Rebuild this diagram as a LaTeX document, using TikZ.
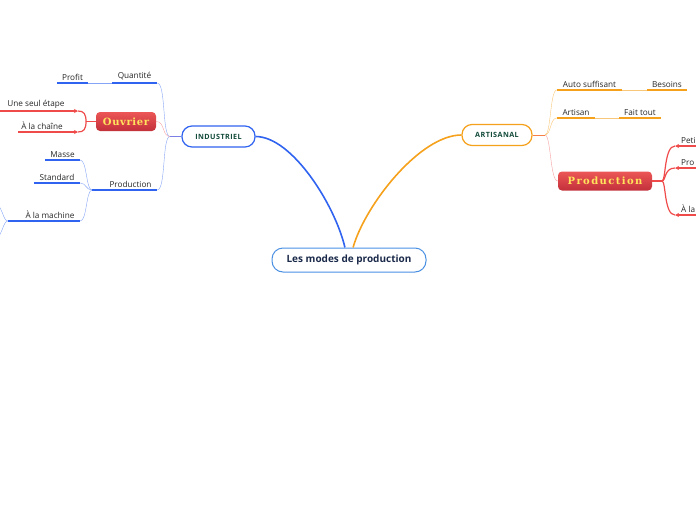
\documentclass[tikz,border=0pt]{standalone}
\usepackage{fontspec}
\setmainfont{Open Sans}
\newfontfamily\slabfont[LetterSpace=6]{DejaVu Serif}
\newfontfamily\slabwide[LetterSpace=14]{DejaVu Serif}
\newfontfamily\capsfont[LetterSpace=6]{Open Sans}
\usetikzlibrary{arrows.meta}
\definecolor{bluebr}{HTML}{2F63F0}
\definecolor{bluelt}{HTML}{86A4F6}
\definecolor{bluestub}{HTML}{7B7FE6}
\definecolor{orbr}{HTML}{F5A11C}
\definecolor{orlt}{HTML}{F9C77A}
\definecolor{orstub}{HTML}{F57F45}
\definecolor{redbr}{HTML}{F04B4B}
\definecolor{redlt}{HTML}{F6A0A0}
\definecolor{redtop}{HTML}{EC5656}
\definecolor{redbot}{HTML}{C2303A}
\definecolor{yellowtxt}{HTML}{FFE45C}
\definecolor{greentxt}{HTML}{124A3A}
\definecolor{navytxt}{HTML}{1B2A4A}
\definecolor{rootline}{HTML}{4A90E2}
\tikzset{
  root/.style={draw=rootline, line width=1pt, rounded corners=11pt, fill=white,
    minimum width=154pt, minimum height=24pt, inner sep=0pt,
    font=\fontsize{10}{12}\selectfont\bfseries, text=navytxt},
  mainbox/.style={rounded corners=10pt, line width=1.2pt, fill=white, inner sep=0pt,
    minimum height=21pt, font=\capsfont\fontsize{7.2}{9}\selectfont\bfseries, text=greentxt},
  redbox/.style={rounded corners=4pt, top color=redtop, bottom color=redbot, inner sep=0pt,
    minimum height=19pt, font=\slabfont\fontsize{10}{11}\selectfont\bfseries, text=yellowtxt},
  leaf/.style={anchor=south, inner xsep=0pt, inner ysep=2.5pt,
    font=\fontsize{8.2}{10}\selectfont, text=black!85},
  thick line/.style={line width=1.6pt},
  tipR/.style={-{Stealth[length=4pt,width=4pt]}},
  tipL/.style={{Stealth[length=4pt,width=4pt]}-}
}
\begin{document}
\begin{tikzpicture}[x=1pt,y=-1pt]
\useasboundingbox (0,0) rectangle (696,520);

\node[root] (root) at (349,260) {Les modes de production};
\node[mainbox, draw=bluebr, minimum width=73pt] (indus) at (218.5,136.5) {INDUSTRIEL};
\node[mainbox, draw=orbr, minimum width=70pt] (artis) at (497,135) {ARTISANAL};

\draw[bluebr, thick line] (root.108) .. controls (335,205) and (292,136.5) .. (indus.east);
\draw[orbr, thick line] (root.72) .. controls (365,205) and (420,135) .. (artis.west);

% industriel
\node[leaf, minimum width=45pt] (quant) at (134.5,83) {Quantité};
\node[leaf, minimum width=31pt] (profit) at (72.5,83) {Profit};
\node[redbox, minimum width=60pt] (ouvrier) at (126,121.5) {Ouvrier};
\node[leaf, minimum width=72pt] (etape) at (36,111) {Une seul étape};
\node[leaf, minimum width=48pt] (chaine) at (42,132) {À la chaîne};
\node[leaf, minimum width=53pt] (prodL) at (130.5,190) {Production};
\node[leaf, minimum width=35pt] (masse) at (62.5,160) {Masse};
\node[leaf, minimum width=46pt] (standard) at (57,183) {Standard};
\node[leaf, minimum width=60pt] (machine) at (50,221) {À la machine};

\coordinate (jI) at (170,136.5);
\coordinate (jO) at (86,121.5);
\coordinate (etapeA) at (78,111);
\coordinate (chaineA) at (78,132);
\coordinate (jP) at (92,190);
\coordinate (jM) at (8,221);
\coordinate (mUp) at (-4,203);
\coordinate (mDn) at (-4,239);

\foreach \n in {quant,profit,prodL,masse,standard,machine}
  \draw[bluebr, thick line] (\n.south west) -- (\n.south east);

\draw[bluestub, line width=1pt] (indus.west) -- (jI);
\draw[bluelt] (jI) .. controls (162,136.5) and (166,83) .. (quant.south east);
\draw[bluelt] (jI) .. controls (162,136.5) and (166,190) .. (prodL.south east);
\draw[redlt] (jI) .. controls (162,136.5) and (165,121.5) .. (ouvrier.east);
\draw[bluelt] (quant.south west) -- (profit.south east);

\draw[redbr, line width=1.2pt] (ouvrier.west) -- (jO);
\draw[redbr, thick line, tipR] (etape.south west) -- (etapeA);
\draw[redbr, thick line, tipR] (chaine.south west) -- (chaineA);
\draw[redbr, line width=1.2pt] (jO) .. controls (86,114) and (84,111) .. (etapeA);
\draw[redbr, line width=1.2pt] (jO) .. controls (86,129) and (84,132) .. (chaineA);

\draw[bluebr, line width=1.2pt] (prodL.south west) -- (jP);
\draw[bluelt] (jP) .. controls (86,190) and (87,160) .. (masse.south east);
\draw[bluelt] (jP) .. controls (86,190) and (86,183) .. (standard.south east);
\draw[bluelt] (jP) .. controls (86,190) and (87,221) .. (machine.south east);

\draw[bluebr, line width=1.2pt] (machine.south west) -- (jM);
\draw[bluelt] (jM) .. controls (3,221) and (3,208) .. (mUp);
\draw[bluelt] (jM) .. controls (3,221) and (3,234) .. (mDn);

% artisanal
\node[leaf, minimum width=65pt] (auto) at (589.5,90) {Auto suffisant};
\node[leaf, minimum width=40pt] (besoins) at (667,90) {Besoins};
\node[leaf, minimum width=38pt] (artisan) at (576,118) {Artisan};
\node[leaf, minimum width=42pt] (fait) at (640,118) {Fait tout};
\node[redbox, minimum width=94pt, font=\slabwide\fontsize{10}{11}\selectfont\bfseries] (prodR) at (605,181) {Production};
\node[leaf, anchor=south west, inner xsep=6pt] (peti) at (675,146) {Peti};
\node[leaf, anchor=south west, inner xsep=6pt] (prod) at (675,168) {Pro};
\node[leaf, anchor=south west, inner xsep=6pt] (alam) at (675,215) {À la};

\coordinate (jA) at (545,135);
\coordinate (jR) at (662,181);
\coordinate (petiE) at (700,146);
\coordinate (prodE) at (700,168);
\coordinate (alamE) at (700,215);

\foreach \n in {auto,besoins,artisan,fait}
  \draw[orbr, thick line] (\n.south west) -- (\n.south east);

\draw[orstub, line width=1pt] (artis.east) -- (jA);
\draw[orlt] (jA) .. controls (551,135) and (550,90) .. (auto.south west);
\draw[orlt] (jA) .. controls (551,135) and (550,118) .. (artisan.south west);
\draw[redlt] (jA) .. controls (551,135) and (550,181) .. (prodR.west);
\draw[orlt] (auto.south east) -- (besoins.south west);
\draw[orlt] (artisan.south east) -- (fait.south west);

\draw[redbr, line width=1.2pt] (prodR.east) -- (jR);
\draw[redbr, line width=1.2pt] (jR) .. controls (666,181) and (664,146) .. (peti.south west);
\draw[redbr, line width=1.2pt] (jR) .. controls (666,181) and (664,168) .. (prod.south west);
\draw[redbr, line width=1.2pt] (jR) .. controls (666,181) and (664,215) .. (alam.south west);
\draw[redbr, thick line, tipL] (peti.south west) -- (petiE);
\draw[redbr, thick line, tipL] (prod.south west) -- (prodE);
\draw[redbr, thick line, tipL] (alam.south west) -- (alamE);
\end{tikzpicture}
\end{document}
